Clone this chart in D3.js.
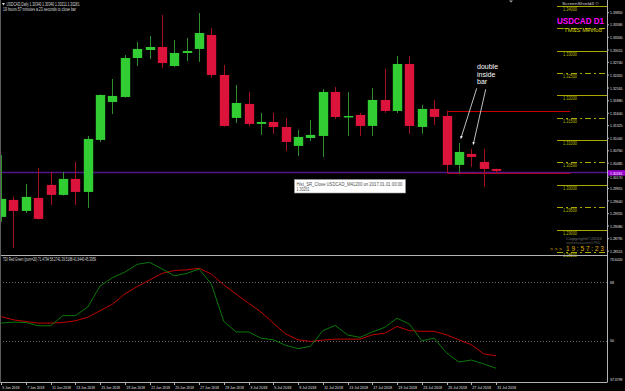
<!DOCTYPE html>
<html>
<head>
<meta charset="utf-8">
<script src="https://cdn.jsdelivr.net/npm/d3@7"></script>
<style>
  body { margin: 0; background: #000; }
  svg { display: block; }
  text { font-family: "Liberation Sans", Arial, sans-serif; }
</style>
</head>
<body>
<script>
// USDCAD daily candles, 5 Jun - 31 Jul 2018
var dates = ["5 Jun 2018","6 Jun 2018","7 Jun 2018","8 Jun 2018","11 Jun 2018","12 Jun 2018","13 Jun 2018","14 Jun 2018","15 Jun 2018",
  "18 Jun 2018","19 Jun 2018","20 Jun 2018","21 Jun 2018","22 Jun 2018","25 Jun 2018","26 Jun 2018","27 Jun 2018","28 Jun 2018","29 Jun 2018",
  "2 Jul 2018","3 Jul 2018","4 Jul 2018","5 Jul 2018","6 Jul 2018","9 Jul 2018","10 Jul 2018","11 Jul 2018","12 Jul 2018","13 Jul 2018",
  "16 Jul 2018","17 Jul 2018","18 Jul 2018","19 Jul 2018","20 Jul 2018","23 Jul 2018","24 Jul 2018","25 Jul 2018","26 Jul 2018","27 Jul 2018",
  "30 Jul 2018","31 Jul 2018"];
var open = [1.29282,1.29662,1.29416,1.29707,1.29998,1.29774,1.30132,1.29841,1.31004,1.31853,1.31965,1.32837,1.33016,1.33083,1.32658,1.32949,
  1.33039,1.33352,1.32457,1.31496,1.31809,1.31362,1.31406,1.31294,1.30870,1.31048,1.31093,1.32077,1.31518,1.31563,1.31317,1.31898,1.31652,
  1.32703,1.31294,1.31697,1.31540,1.30445,1.30691,1.30512,1.30355];
var high = [1.30668,1.29729,1.30020,1.30378,1.30288,1.30288,1.30512,1.31093,1.32020,1.32368,1.32904,1.33195,1.33329,1.33799,1.33240,1.33284,
  1.33843,1.33508,1.32681,1.32234,1.32077,1.31607,1.31607,1.31496,1.31227,1.31451,1.32144,1.32189,1.32077,1.31607,1.32166,1.32591,1.32882,
  1.32882,1.31786,1.31898,1.31659,1.30937,1.30803,1.30803,1.30360];
var low = [1.29170,1.28589,1.29371,1.29220,1.29550,1.29760,1.29550,1.29483,1.30959,1.31585,1.31950,1.32658,1.32815,1.32614,1.32636,1.32770,
  1.32748,1.32390,1.31300,1.31384,1.31317,1.31116,1.31138,1.30758,1.30646,1.30981,1.30624,1.31473,1.31093,1.31093,1.31093,1.31607,1.31607,
  1.31138,1.31138,1.31339,1.30259,1.30266,1.30400,1.29953,1.30244];
var close = [1.29685,1.29416,1.29729,1.29237,1.29774,1.30132,1.29841,1.31026,1.32010,1.31988,1.32837,1.33039,1.33083,1.32725,1.32949,1.32994,
  1.33396,1.32457,1.31317,1.31831,1.31362,1.31406,1.31294,1.30959,1.31071,1.31116,1.32077,1.31518,1.31540,1.31317,1.31898,1.31652,1.32703,
  1.31317,1.31697,1.31518,1.30445,1.30735,1.30624,1.30355,1.30311];

// TDI sub window
var tdiGreen = [55.4,55.7,55.6,54.6,54.6,57.7,57.7,60.3,66.8,69.3,71.0,73.4,74.0,72.0,69.9,70.6,72.0,67.3,55.9,52.7,52.7,50.8,50.3,48.6,47.6,
  48.3,53.1,54.7,51.8,51.0,52.7,54.1,56.9,55.1,50.0,50.8,46.3,43.5,44.1,42.9,41.6];
var tdiRed = [57.4,56.4,55.9,55.4,55.4,55.6,56.1,57.2,59.2,61.2,64.3,66.6,68.6,70.6,71.5,71.7,72.2,70.4,67.1,64.3,61.5,58.8,55.4,52.1,50.3,
  49.8,50.2,50.5,50.5,50.5,51.8,52.3,54.4,53.1,52.9,52.9,51.8,50.3,48.8,46.0,45.4];
var tdiLevels = [68, 50];

var priceTicks = [1.33850,1.33580,1.33300,1.33015,1.32740,1.32455,1.32165,1.31880,1.31600,1.31325,1.31040,1.30760,1.30485,1.30170,
  1.29915,1.29640,1.29355,1.29080,1.28795,1.28515];
var goldLevels = [1.340,1.335,1.330,1.325,1.320,1.315,1.310,1.305,1.300,1.295,1.290,1.285];
var srLevel = 1.30261;
var motherBar = 36;   // index of the bar boxed in red

var W = 625, H = 391, right = 607;
var svg = d3.select("body").append("svg").attr("width", W).attr("height", H);
svg.append("rect").attr("width", W).attr("height", H).attr("fill", "#000");

var x = d3.scalePoint().domain(dates).range([1.1, 496]);
var step = x.step();
var y = d3.scaleLinear().domain([1.2843, 1.34134]).range([255, 0]);
var yi = d3.scaleLinear().domain([37.38, 75.64]).range([382, 257]);

function txt(g, s, tx, ty, size, fill, len) {
  var t = g.append("text").attr("x", tx).attr("y", ty).attr("font-size", size).attr("fill", fill).text(s);
  if (len) t.attr("textLength", len).attr("lengthAdjust", "spacingAndGlyphs");
  return t;
}

// gold level lines (right side)
goldLevels.forEach(function (p, i) {
  var yy = Math.round(y(p)) + 0.5;
  svg.append("line").attr("x1", 557).attr("x2", right).attr("y1", yy).attr("y2", yy)
    .attr("stroke", "#a8a800").attr("stroke-width", 1)
    .attr("stroke-dasharray", i % 2 ? "6,3,2,3" : null);
  if (i !== 1) txt(svg, p.toFixed(5), 563, yy + 4.5, 4.5, "#b8b800", 14);
});

// indicator level lines
tdiLevels.forEach(function (v) {
  var yy = Math.round(yi(v)) + 0.5;
  svg.append("line").attr("x1", 0).attr("x2", right).attr("y1", yy).attr("y2", yy)
    .attr("stroke", "#8a8a8a").attr("stroke-width", 0.8).attr("stroke-dasharray", "1,2");
});

// mother bar box
var bx = Math.round(x(dates[motherBar])) + 0.5, bx2 = x(dates[dates.length - 1]) + 6 * step;
var bTop = Math.round(y(high[motherBar])) + 0.5, bBot = Math.round(y(low[motherBar])) + 0.5;
svg.append("path").attr("d", "M" + bx2 + "," + bTop + "H" + bx + "V" + bBot + "H" + bx2)
  .attr("fill", "none").attr("stroke", "#c80000").attr("stroke-width", 1);

// S/R line
var sy = Math.round(y(srLevel)) + 0.5 - 1;
svg.append("line").attr("x1", 0).attr("x2", right).attr("y1", sy).attr("y2", sy)
  .attr("stroke", "#551488").attr("stroke-width", 1.3);

// candles
var bars = svg.append("g");
dates.forEach(function (d, i) {
  var cx = Math.round(x(d)) + 0.5, up = close[i] >= open[i];
  bars.append("line").attr("x1", cx).attr("x2", cx).attr("y1", y(high[i])).attr("y2", y(low[i]))
    .attr("stroke", up ? "#2e8e2e" : "#a3101e").attr("stroke-width", 1);
  var t = y(Math.max(open[i], close[i])), b = y(Math.min(open[i], close[i]));
  bars.append("rect").attr("x", cx - 4.7).attr("width", 9.4).attr("y", t).attr("height", Math.max(1.5, b - t))
    .attr("fill", up ? "#32cd32" : "#dc143c");
});

// TDI lines
svg.append("path").datum(tdiRed).attr("fill", "none").attr("stroke", "#c00000").attr("stroke-width", 1)
  .attr("d", d3.line().x(function (d, i) { return x(dates[i]); }).y(function (d) { return yi(d); }));
svg.append("path").datum(tdiGreen).attr("fill", "none").attr("stroke", "#0a780a").attr("stroke-width", 1)
  .attr("d", d3.line().x(function (d, i) { return x(dates[i]); }).y(function (d) { return yi(d); }));

// frame
var fr = svg.append("g").attr("stroke", "#b4b4b4").attr("stroke-width", 1);
fr.append("line").attr("x1", 0).attr("x2", right).attr("y1", 255.5).attr("y2", 255.5);
fr.append("line").attr("x1", 0).attr("x2", right).attr("y1", 382.5).attr("y2", 382.5);
fr.append("line").attr("x1", right + 0.5).attr("x2", right + 0.5).attr("y1", 0).attr("y2", 382.5);
fr.append("line").attr("x1", 0.5).attr("x2", 0.5).attr("y1", 0).attr("y2", 382.5).attr("stroke", "#5a5a5a");
svg.append("path").attr("d", "M509,0.5h4l-2,2z").attr("fill", "#aaa");

// price axis
priceTicks.forEach(function (p) {
  var yy = y(p);
  svg.append("line").attr("x1", right).attr("x2", right + 2).attr("y1", yy).attr("y2", yy).attr("stroke", "#b4b4b4");
  txt(svg, p.toFixed(5), 610, yy + 1.6, 4.3, "#e0e0e0", 12.5);
});
svg.append("rect").attr("x", right + 1).attr("y", y(srLevel) - 3).attr("width", 17).attr("height", 5.5).attr("fill", "#9a00d0");
txt(svg, srLevel.toFixed(5), 610, y(srLevel) + 1.6, 4.3, "#fff", 12.5);

// indicator axis
txt(svg, "75.6420", 610, 261, 4.2, "#e0e0e0", 12.5);
tdiLevels.forEach(function (v) { txt(svg, String(v), 610, yi(v) + 1.6, 4.2, "#e0e0e0", 4); });
txt(svg, "37.3799", 610, 381, 4.2, "#e0e0e0", 12.5);

// date axis
dates.forEach(function (d, i) {
  if (i % 2) return;
  var xx = Math.round(x(d)) + 0.5;
  svg.append("line").attr("x1", xx).attr("x2", xx).attr("y1", 382).attr("y2", 385).attr("stroke", "#b4b4b4");
  txt(svg, d, xx + 0.8, 388.5, 4.2, "#e0e0e0", d.length * 1.7);
});

// headers
svg.append("path").attr("d", "M2,3h3l-1.5,2.5z").attr("fill", "#ddd");
txt(svg, "USDCAD,Daily  1.30340 1.30340 1.30211 1.30281", 6.5, 5.5, 4.5, "#dcdcdc", 73);
txt(svg, "19 hours 57 minutes a 23 seconds to close bar", 3, 11, 4.5, "#dcdcdc", 73);
txt(svg, "TDI Red Green (pum=20) 71.4794 58.2741 39.5188 41.6440 45.3959", 3, 261, 4.5, "#dcdcdc", 93);
txt(svg, "ScreenShield4 ©", 562, 5, 3.6, "#cfcfcf", 37);
txt(svg, "USDCAD D1", 557, 23.5, 8.2, "#ff00ff", 47).attr("font-weight", "bold");
txt(svg, "\"TM&S Method\"", 562, 32, 5.6, "#d8d800", 42);

// annotation
["double", "inside", "bar"].forEach(function (s, i) {
  svg.append("text").attr("x", 477).attr("y", 69 + i * 7.5).attr("font-size", 7).attr("fill", "#fff")
    .attr("font-family", "'Liberation Serif', serif").text(s);
});
svg.append("defs").append("marker").attr("id", "ah").attr("viewBox", "0 0 6 6").attr("refX", 5).attr("refY", 3)
  .attr("markerWidth", 3.5).attr("markerHeight", 3.5).attr("orient", "auto")
  .append("path").attr("d", "M0,0L6,3L0,6z").attr("fill", "#fff");
[[37, 476.7, 88.3], [38, 485.7, 89.3]].forEach(function (a) {
  var tx = x(dates[a[0]]) + 2, ty = y(high[a[0]]) - 4.5;
  svg.append("line").attr("x1", a[1]).attr("y1", a[2]).attr("x2", tx).attr("y2", ty)
    .attr("stroke", "#f0f0f0").attr("stroke-width", 0.8).attr("marker-end", "url(#ah)");
});

// tooltip
svg.append("rect").attr("x", 294.5).attr("y", 179.5).attr("width", 111).attr("height", 13.5)
  .attr("fill", "#fff").attr("stroke", "#999").attr("stroke-width", 0.6);
txt(svg, "Hist_SR_Close USDCAD_M41200 on 2017.01.01 00:00", 296.5, 185.5, 4.5, "#505050", 106);
txt(svg, "1.30261", 296.5, 191, 4.5, "#505050", 13);

// watermark & clock
txt(svg, "Copyright©2016", 566, 239.5, 4.2, "#707070", 36);
txt(svg, "sweetseason0780", 566, 244, 3.8, "#5a5a5a", 34);
txt(svg, "> > >", 550, 251, 5, "#d8a800", 12);
txt(svg, "1 9 : 5 7 : 2 3", 566, 251.2, 7.2, "#e0b000", 38);
</script>
</body>
</html>
